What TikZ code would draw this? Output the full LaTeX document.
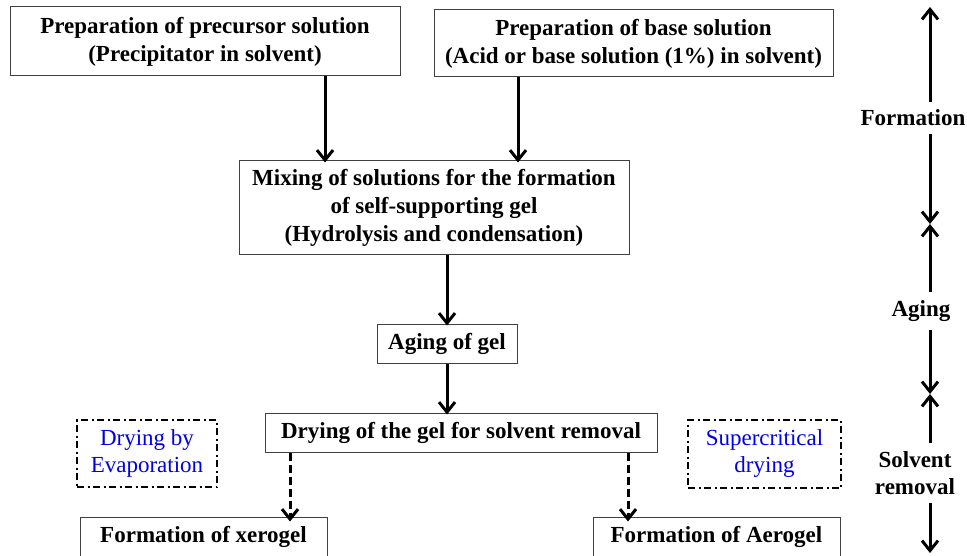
\documentclass[tikz,border=0pt]{standalone}
\usepackage{fontspec}
\setmainfont{Liberation Serif}
\usetikzlibrary{arrows.meta}
\begin{document}
\begin{tikzpicture}[x=1pt,y=-1pt,
  box/.style={draw=black!75,line width=1pt,align=center,inner sep=0pt,
    font=\fontsize{23}{28}\selectfont\bfseries},
  dbox/.style={draw=black,line width=2pt,dash pattern=on 7pt off 3.5pt on 2pt off 3.5pt,
    align=center,inner sep=0pt,text=blue!90!black,font=\fontsize{23}{27}\selectfont},
  lab/.style={align=center,inner sep=0pt,font=\fontsize{23}{27}\selectfont\bfseries},
  arr/.style={line width=3pt,-{Straight Barb[length=10pt,width=16pt]}},
  darr/.style={arr,dash pattern=on 8pt off 4pt}]
\useasboundingbox (0,0) rectangle (967,556);
\node[box,minimum width=390,minimum height=69] (b1) at (205,41.5)
  {Preparation of precursor solution\\(Precipitator in solvent)};
\node[box,minimum width=399,minimum height=67] (b2) at (633.5,43.5)
  {Preparation of base solution\\(Acid or base solution (1\%) in solvent)};
\node[box,minimum width=390,minimum height=94] (b3) at (434,208)
  {Mixing of solutions for the formation\\of self-supporting gel\\(Hydrolysis and condensation)};
\node[box,minimum width=140,minimum height=39] (b4) at (447,343.5) {Aging of gel};
\node[box,minimum width=392,minimum height=39] (b5) at (461,432.5) {Drying of the gel for solvent removal};
\node[box,minimum width=247,minimum height=39] (b6) at (203.5,536.5) {Formation of xerogel};
\node[box,minimum width=247,minimum height=39] (b7) at (716.5,536.5) {Formation of Aerogel};
\node[dbox,minimum width=140,minimum height=67] (d1) at (147,453.5) {Drying by\\Evaporation};
\node[dbox,minimum width=153,minimum height=68] (d2) at (764.5,454) {Supercritical\\drying};
\coordinate (xa) at (325,0);
\coordinate (xb) at (518,0);
\coordinate (xc) at (290,0);
\coordinate (xd) at (628,0);
\draw[arr] (b1.south -| xa) -- ([yshift=-2pt]b3.north -| xa);
\draw[arr] (b2.south -| xb) -- ([yshift=-2pt]b3.north -| xb);
\draw[arr] (b3.south -| b4) -- ([yshift=-2pt]b4.north);
\draw[arr] (b4.south) -- ([yshift=-2pt]b5.north -| b4);
\draw[darr] (b5.south -| xc) -- ([yshift=-5pt]b6.north -| xc);
\draw[darr] (b5.south -| xd) -- ([yshift=-5pt]b7.north -| xd);
% right side scale
\node[lab] (l1) at (913,118) {Formation};
\node[lab] (l2) at (921,311) {Aging};
\node[lab] (l3) at (915,473) {Solvent\\removal};
\coordinate (t0) at (930,7);
\coordinate (t1) at (930,224);
\coordinate (t2) at (930,394);
\coordinate (t3) at (930,553);
\draw[arr] (l1.north -| t0) ++(0,-8) -- (t0);
\draw[arr] (l1.south -| t0) ++(0,8) -- (t1);
\draw[arr] (l2.north -| t0) ++(0,-8) -- (t1);
\draw[arr] (l2.south -| t0) ++(0,8) -- (t2);
\draw[arr] (l3.north -| t0) ++(0,-8) -- (t2);
\draw[arr] (l3.south -| t0) ++(0,8) -- (t3);
\end{tikzpicture}
\end{document}
